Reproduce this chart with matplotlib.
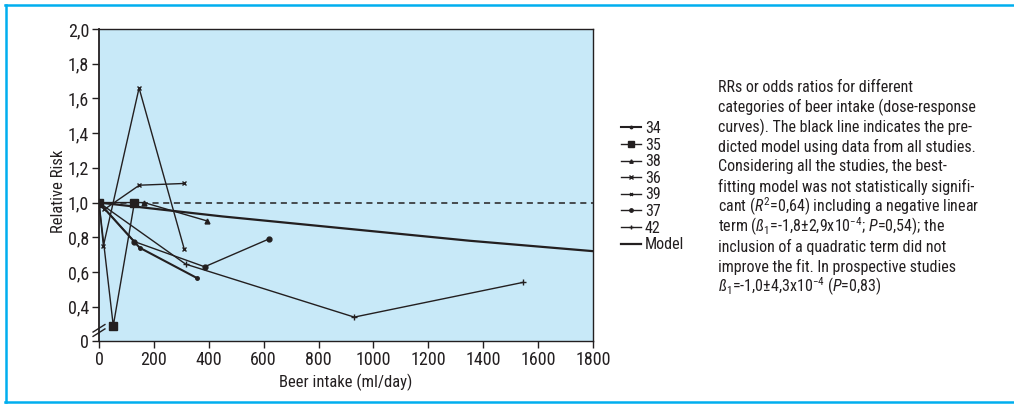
import matplotlib
matplotlib.use("Agg")
import matplotlib.pyplot as plt
from matplotlib.lines import Line2D

plt.rcParams['font.family'] = ['Roboto Condensed', 'Roboto', 'DejaVu Sans']
plt.rcParams['mathtext.fontset'] = 'custom'
plt.rcParams['mathtext.rm'] = 'Roboto Condensed'
plt.rcParams['mathtext.it'] = 'Roboto Condensed:italic'

# Данные по исследованиям (потребление пива, мл/день -> относительный риск)
x_34 = [0, 148, 357]
y_34 = [1.0, 0.74, 0.565]
x_35 = [0, 52, 129]
y_35 = [1.0, 0.29, 1.0]
x_38 = [0, 164, 392]
y_38 = [1.0, 1.0, 0.895]
x_36 = [0, 16, 146, 311]
y_36 = [1.0, 0.75, 1.66, 0.73]
x_39 = [0, 19, 147, 311]
y_39 = [1.0, 0.96, 1.10, 1.11]
x_37 = [0, 129, 385, 619]
y_37 = [1.0, 0.775, 0.63, 0.79]
x_42 = [0, 316, 930, 1545]
y_42 = [1.0, 0.645, 0.34, 0.54]
x_model = [0, 450, 900, 1350, 1800]
y_model = [1.0, 0.92, 0.85, 0.78, 0.72]

y_ticks = [0.2, 0.4, 0.6, 0.8, 1.0, 1.2, 1.4, 1.6, 1.8, 2.0]
y_tick_labels = ['0', '0,4', '0,6', '0,8', '1,0', '1,2', '1,4', '1,6', '1,8', '2,0']
x_ticks = [0, 200, 400, 600, 800, 1000, 1200, 1400, 1600, 1800]

caption = [
    "RRs or odds ratios for different",
    "categories of beer intake (dose-response",
    "curves). The black line indicates the pre-",
    "dicted model using data from all studies.",
    "Considering all the studies, the best-",
    "fitting model was not statistically signifi-",
    r"cant ($\mathit{R}^{2}$=0,64) including a negative linear",
    r"term ($\mathit{ß}_{1}$=-1,8±2,9x10$^{-4}$; $\mathit{P}$=0,54); the",
    "inclusion of a quadratic term did not",
    "improve the fit. In prospective studies",
    r"$\mathit{ß}_{1}$=-1,0±4,3x10$^{-4}$ ($\mathit{P}$=0,83)",
]

ink = '#231f20'

fig = plt.figure(figsize=(10.14, 4.04), dpi=100)
ax = fig.add_axes([99 / 1014, 1 - 341.4 / 404, 494 / 1014, 312.4 / 404])
ax.set_facecolor('#c8e9f8')

series = [
    (x_34, y_34, '34', 'o', 2.5, 1.5),
    (x_35, y_35, '35', 's', 5.5, 1.0),
    (x_38, y_38, '38', '^', 3.5, 1.0),
    (x_36, y_36, '36', 'x', 3.5, 1.0),
    (x_39, y_39, '39', 'x', 3.0, 1.0),
    (x_37, y_37, '37', 'o', 3.5, 1.0),
    (x_42, y_42, '42', '+', 5.0, 1.0),
]
for xs, ys, name, mk, ms, lw in series:
    ax.plot(xs, ys, color=ink, lw=lw, marker=mk, ms=ms, mew=1.0, label=name)
ax.plot(x_model, y_model, color=ink, lw=1.6, label='Model')
ax.axhline(1.0, color=ink, lw=1.1, ls=(0, (4, 3)))

ax.set_xlim(0, 1800)
ax.set_ylim(0.2, 2.0)
ax.set_xticks(x_ticks)
ax.set_yticks(y_ticks)
ax.set_yticklabels(y_tick_labels)
ax.tick_params(labelsize=13, length=5, width=1, colors=ink, direction='out', pad=2)
for s in ax.spines.values():
    s.set_color(ink)
    s.set_linewidth(1.0)
ax.spines['left'].set_linewidth(1.3)
ax.set_xlabel('Beer intake (ml/day)', fontsize=12, color=ink, labelpad=3)
ax.set_ylabel('Relative Risk', fontsize=12, color=ink)
ax.yaxis.set_label_coords(-0.067, 0.48)

# разрыв оси
for dy in (0.0, 0.014):
    ax.plot([-0.012, 0.012], [0.016 + dy, 0.040 + dy], transform=ax.transAxes,
            color=ink, lw=1.0, clip_on=False, zorder=5)

handles, labels = ax.get_legend_handles_labels()
fig.legend(handles, labels, loc='upper left', bbox_to_anchor=(621 / 1014, 1 - 121 / 404),
           frameon=False, fontsize=11.5, handlelength=1.25, handletextpad=0.25,
           labelspacing=0.1, borderpad=0, borderaxespad=0, labelcolor=ink,
           markerscale=0.7)

for i, line in enumerate(caption):
    fig.text(718 / 1014, 1 - (87 + 20 * i) / 404, line, fontsize=11.5, color=ink,
             ha='left', va='center')

# голубая рамка
blue = '#00aeef'
fig.add_artist(Line2D([5 / 1014, 1], [1 - 5 / 404, 1 - 5 / 404], color=blue, lw=1.8))
fig.add_artist(Line2D([6 / 1014, 6 / 1014], [1 - 5 / 404, 2 / 404], color=blue, lw=1.8))
fig.add_artist(Line2D([5 / 1014, 1], [2 / 404, 2 / 404], color=blue, lw=1.8))

fig.savefig('out.png', dpi=100)
